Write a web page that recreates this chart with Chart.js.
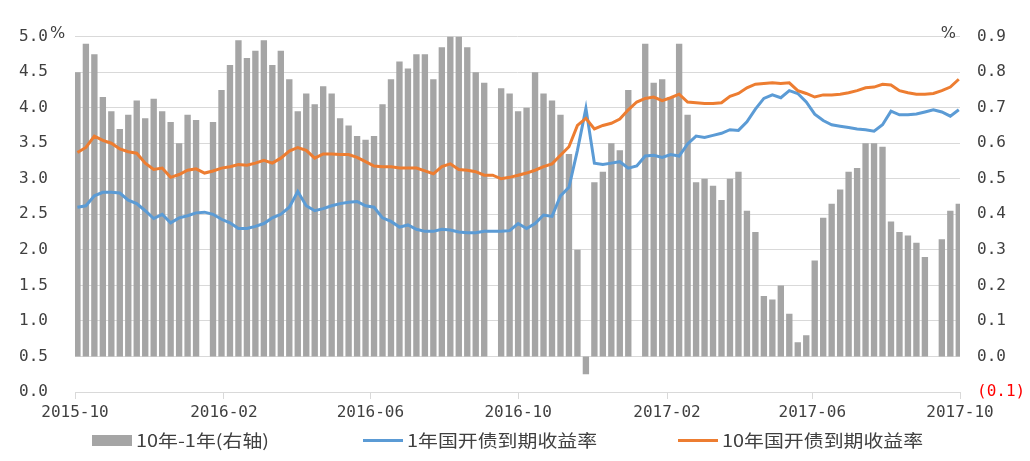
<!DOCTYPE html>
<html><head><meta charset="utf-8">
<script src="https://cdn.jsdelivr.net/npm/chart.js@4.4.1/dist/chart.umd.min.js"></script>
<style>
html,body{margin:0;padding:0;background:#fff;}
#wrap{position:relative;width:1030px;height:461px;overflow:hidden;}
#legend{position:absolute;left:0;top:0;width:1030px;height:461px;pointer-events:none;font-family:"Noto Sans CJK SC";font-size:17px;color:#404040;}
.item{position:absolute;top:430px;height:20px;line-height:20px;display:flex;align-items:center;white-space:nowrap;}
.sw{display:inline-block;width:40px;margin-right:4px;}
.tx{display:inline-block;transform:scaleX(1.17);transform-origin:left center;}
</style></head><body>
<div id="wrap"><canvas id="c" width="1030" height="461"></canvas><div id="legend"></div></div>
<script>
const seriesNames = ['10年-1年(右轴)', '1年国开债到期收益率', '10年国开债到期收益率'];
const tickLabels = ['2015-10','2016-02','2016-06','2016-10','2017-02','2017-06','2017-10'];

// weekly values, right axis (%)
const spread = [0.80,0.88,0.85,0.73,0.69,0.64,0.68,0.72,0.67,0.725,
 0.69,0.66,0.60,0.68,0.665,null,0.66,0.75,0.82,0.89,
 0.84,0.86,0.89,0.82,0.86,0.78,0.69,0.74,0.71,0.76,
 0.74,0.67,0.65,0.62,0.61,0.62,0.71,0.78,0.83,0.81,
 0.85,0.85,0.78,0.87,0.90,0.90,0.87,0.80,0.77,null,
 0.755,0.74,0.69,0.70,0.80,0.74,0.72,0.68,0.57,0.30,
 -0.05,0.49,0.52,0.60,0.58,0.75,null,0.88,0.77,0.78,
 0.73,0.88,0.68,0.49,0.50,0.48,0.44,0.50,0.52,0.41,
 0.35,0.17,0.16,0.20,0.12,0.04,0.06,0.27,0.39,0.43,
 0.47,0.52,0.53,0.60,0.60,0.59,0.38,0.35,0.34,0.32,
 0.28,null,0.33,0.41,0.43];

// weekly values, left axis (%)
const yield1Y = [2.60,2.62,2.76,2.81,2.81,2.80,2.70,2.65,2.55,2.44,
 2.50,2.38,2.45,2.48,2.52,2.53,2.50,2.43,2.38,2.30,
 2.30,2.33,2.37,2.45,2.50,2.60,2.82,2.62,2.55,2.58,
 2.62,2.65,2.67,2.68,2.62,2.60,2.45,2.40,2.32,2.35,
 2.29,2.26,2.26,2.29,2.28,2.25,2.24,2.24,2.26,2.26,
 2.26,2.27,2.37,2.30,2.37,2.49,2.47,2.76,2.88,3.40,
 3.99,3.22,3.20,3.22,3.24,3.15,3.18,3.32,3.33,3.30,
 3.34,3.32,3.49,3.60,3.58,3.61,3.64,3.69,3.68,3.80,
 3.98,4.13,4.18,4.14,4.24,4.20,4.08,3.91,3.82,3.76,
 3.74,3.72,3.70,3.69,3.67,3.76,3.95,3.90,3.90,3.91,
 3.94,3.97,3.94,3.88,3.97];

const yield10Y = [3.37,3.44,3.60,3.54,3.50,3.42,3.38,3.36,3.22,3.13,
 3.15,3.02,3.06,3.12,3.14,3.08,3.11,3.15,3.17,3.20,
 3.19,3.22,3.26,3.22,3.29,3.39,3.44,3.40,3.29,3.35,
 3.35,3.34,3.34,3.30,3.24,3.18,3.17,3.17,3.15,3.15,
 3.15,3.11,3.07,3.17,3.21,3.13,3.12,3.10,3.05,3.05,
 3.00,3.02,3.05,3.08,3.12,3.17,3.21,3.33,3.45,3.75,
 3.85,3.70,3.75,3.78,3.84,3.97,4.08,4.13,4.15,4.10,
 4.14,4.19,4.08,4.07,4.06,4.06,4.07,4.16,4.20,4.28,
 4.33,4.34,4.35,4.34,4.35,4.24,4.20,4.15,4.18,4.18,
 4.19,4.21,4.24,4.28,4.29,4.33,4.32,4.24,4.21,4.19,
 4.19,4.20,4.24,4.29,4.40];

const startDate = Date.UTC(2015, 9, 1);
const dayOf = s => (Date.UTC(+s.slice(0,4), +s.slice(5,7) - 1, 1) - startDate) / 86400000;
const tickDays = tickLabels.map(dayOf);
const weekDays = spread.map((_, i) => i * 7 + 2);

const colors = ['#a5a5a5', '#5b9bd5', '#ed7d31'];
const tickFont = {family: 'DejaVu Sans Mono', size: 16};

const percentMarks = {
  id: 'percentMarks',
  afterDraw(chart) {
    const {ctx, chartArea} = chart;
    ctx.save();
    ctx.font = '16px "DejaVu Sans"';
    ctx.fillStyle = '#404040';
    ctx.textBaseline = 'middle';
    ctx.textAlign = 'left';
    ctx.fillText('%', chartArea.left - 25, chartArea.top - 3);
    ctx.textAlign = 'right';
    ctx.fillText('%', chartArea.right - 4, chartArea.top - 3);
    ctx.restore();
  }
};

const chart = new Chart(document.getElementById('c'), {
  type: 'bar',
  data: {
    labels: weekDays,
    datasets: [
      {type: 'bar', label: seriesNames[0], data: spread, yAxisID: 'y1', backgroundColor: colors[0],
       barPercentage: 0.75, categoryPercentage: 1, order: 3},
      {type: 'line', label: seriesNames[1], data: yield1Y, yAxisID: 'y', borderColor: colors[1],
       backgroundColor: colors[1], borderWidth: 3, pointRadius: 0, tension: 0, order: 2},
      {type: 'line', label: seriesNames[2], data: yield10Y, yAxisID: 'y', borderColor: colors[2],
       backgroundColor: colors[2], borderWidth: 3, pointRadius: 0, tension: 0, order: 1}
    ]
  },
  options: {
    responsive: false, animation: false, devicePixelRatio: 1,
    layout: {padding: {top: 26, left: 0, right: 0, bottom: 39}},
    plugins: {legend: {display: false}, tooltip: {enabled: false}},
    scales: {
      x: {
        type: 'linear', min: 0, max: tickDays[tickDays.length - 1], offset: false,
        afterBuildTicks: s => { s.ticks = tickDays.map(v => ({value: v})); },
        afterFit: s => { s.height = 30; },
        ticks: {callback: v => { const k = tickDays.indexOf(v); return k >= 0 ? tickLabels[k] : ''; },
                autoSkip: false, maxRotation: 0, padding: 4, color: '#404040', font: tickFont},
        grid: {drawOnChartArea: false, drawTicks: true, tickLength: 7, color: '#d9d9d9', offset: false},
        border: {display: true, color: '#d9d9d9'}
      },
      y: {
        position: 'left', min: 0, max: 5,
        ticks: {stepSize: 0.5, padding: 27, color: '#404040', font: tickFont, callback: v => v.toFixed(1)},
        grid: {color: '#d9d9d9', drawTicks: false},
        border: {display: false},
        afterFit: s => { s.width = 75; }
      },
      y1: {
        position: 'right', min: -0.1, max: 0.9,
        ticks: {stepSize: 0.1, padding: 17, font: tickFont,
                color: c => (c.tick && c.tick.value < -1e-9) ? '#ff0000' : '#404040',
                callback: v => v < -1e-9 ? '(' + Math.abs(v).toFixed(1) + ')' : Math.abs(v).toFixed(1)},
        grid: {display: false, drawTicks: false},
        border: {display: false},
        afterFit: s => { s.width = 70; }
      }
    }
  },
  plugins: [percentMarks]
});

// HTML legend built from the chart's datasets
const legendLeft = [92, 363, 678];
const legendEl = document.getElementById('legend');
chart.data.datasets.forEach((ds, i) => {
  const item = document.createElement('div');
  item.className = 'item';
  item.style.left = legendLeft[i] + 'px';
  const sw = document.createElement('span');
  sw.className = 'sw';
  sw.style.background = ds.type === 'bar' ? ds.backgroundColor : ds.borderColor;
  sw.style.height = ds.type === 'bar' ? '11px' : '3px';
  const tx = document.createElement('span');
  tx.className = 'tx';
  tx.textContent = ds.label;
  item.appendChild(sw); item.appendChild(tx);
  legendEl.appendChild(item);
});
</script></body></html>
